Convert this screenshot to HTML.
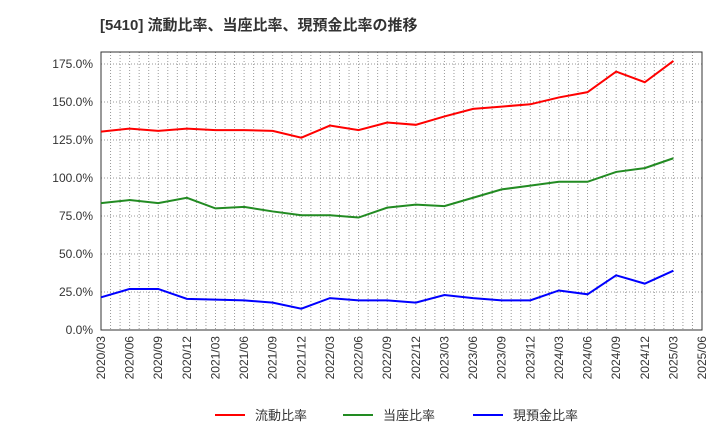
<!DOCTYPE html>
<html><head><meta charset="utf-8"><style>
body{margin:0;background:#fff;font-family:"Liberation Sans","Noto Sans CJK JP",sans-serif}
svg text{font-family:"Liberation Sans","Noto Sans CJK JP",sans-serif}
</style></head><body>
<svg id="c" width="720" height="440">
<text x="100" y="30" font-size="15" font-weight="bold" fill="#333">[5410]  流動比率、当座比率、現預金比率の推移</text>
</svg>
<script>
const categories=["2020/03","2020/06","2020/09","2020/12","2021/03","2021/06","2021/09","2021/12","2022/03","2022/06","2022/09","2022/12","2023/03","2023/06","2023/09","2023/12","2024/03","2024/06","2024/09","2024/12","2025/03","2025/06"];
const currentRatio=[130.5,132.5,131,132.5,131.5,131.5,131,126.5,134.5,131.5,136.5,135,140.5,145.5,147,148.5,153,156.5,170,163,177];
const quickRatio=[83.5,85.5,83.5,87,80,81,78,75.5,75.5,74,80.5,82.5,81.5,87,92.5,95,97.5,97.5,104,106.5,113];
const cashRatio=[21.5,27,27,20.5,20,19.5,18,14,21,19.5,19.5,18,23,21,19.5,19.5,26,23.5,36,30.5,39];
const yTicks=[0,25,50,75,100,125,150,175];
const seriesNames=["流動比率","当座比率","現預金比率"];
const colors=["#ff0000","#228b22","#0000ff"];
const L=101,R=702,T=52,B=330;
const x=i=>L+(R-L)*i/(categories.length-1);
const y=v=>B-(B-T)*v/182.9;
const svg=document.getElementById('c');
const NS="http://www.w3.org/2000/svg";
function mk(t,a,p){const e=document.createElementNS(NS,t);for(const k in a)e.setAttribute(k,a[k]);(p||svg).appendChild(e);return e;}
const g=mk('g',{});


for(let m=1;m<63;m++){const xx=L+(R-L)*m/63;mk('line',{x1:xx,x2:xx,y1:T,y2:B,stroke:"#999","stroke-width":1,"stroke-dasharray":"1,2"},g);}
yTicks.forEach(v=>{if(v>0)mk('line',{x1:L,x2:R,y1:y(v),y2:y(v),stroke:"#999","stroke-width":1,"stroke-dasharray":"1,2"},g);
const t=mk('text',{x:L-8,y:y(v)+4,"text-anchor":"end","font-size":12,fill:"#333"});t.textContent=v.toFixed(1)+"%";

});
categories.forEach((c,i)=>{const t=mk('text',{transform:`translate(${x(i)+4},${B+6}) rotate(-90)`,"text-anchor":"end","font-size":12,fill:"#333"});t.textContent=c;

});
const f=mk('rect',{x:L,y:T,width:R-L,height:B-T,fill:"none",stroke:"#333","stroke-width":1});


[currentRatio,quickRatio,cashRatio].forEach((s,k)=>{
const p=mk('polyline',{points:s.map((v,i)=>x(i)+","+y(v)).join(" "),fill:"none",stroke:colors[k],"stroke-width":2});


const lx=[215,343,473][k];
const lg=mk('g',{});


mk('line',{x1:lx,x2:lx+30,y1:415,y2:415,stroke:colors[k],"stroke-width":2},lg);
const t=mk('text',{x:lx+40,y:420,"font-size":13,fill:"#333"},lg);t.textContent=seriesNames[k];
});
</script>
</body></html>
